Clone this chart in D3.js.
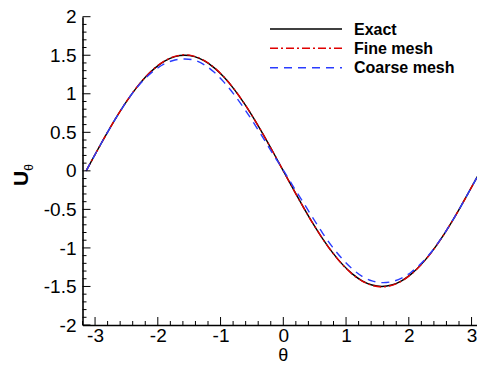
<!DOCTYPE html>
<html>
<head>
<meta charset="utf-8">
<script src="https://cdn.jsdelivr.net/npm/d3@7"></script>
<style>
  html, body { margin: 0; padding: 0; background: #fff; overflow: hidden; }
  svg { display: block; }
  text { font-family: "Liberation Sans", Arial, sans-serif; }
</style>
</head>
<body>
<svg id="chart" width="477" height="365"></svg>
<script>
// ---- data ----
const theta = [-3.1416, -2.9845, -2.8274, -2.6704, -2.5133, -2.3562, -2.1991, -2.0420, -1.8850, -1.7279,
  -1.5708, -1.4137, -1.2566, -1.0996, -0.9425, -0.7854, -0.6283, -0.4712, -0.3142, -0.1571,
  0.0, 0.1571, 0.3142, 0.4712, 0.6283, 0.7854, 0.9425, 1.0996, 1.2566, 1.4137,
  1.5708, 1.7279, 1.8850, 2.0420, 2.1991, 2.3562, 2.5133, 2.6704, 2.8274, 2.9845, 3.1416];
const exact = [0, 0.2347, 0.4635, 0.6810, 0.8817, 1.0607, 1.2135, 1.3365, 1.4266, 1.4815,
  1.5, 1.4815, 1.4266, 1.3365, 1.2135, 1.0607, 0.8817, 0.6810, 0.4635, 0.2347,
  0, -0.2347, -0.4635, -0.6810, -0.8817, -1.0607, -1.2135, -1.3365, -1.4266, -1.4815,
  -1.5, -1.4815, -1.4266, -1.3365, -1.2135, -1.0607, -0.8817, -0.6810, -0.4635, -0.2347, 0];
const fineMesh = [0, 0.2350, 0.4640, 0.6820, 0.8830, 1.0625, 1.2160, 1.3395, 1.4300, 1.4850,
  1.5060, 1.4860, 1.4295, 1.3390, 1.2150, 1.0615, 0.8820, 0.6810, 0.4630, 0.2340,
  -0.0010, -0.2355, -0.4645, -0.6825, -0.8835, -1.0630, -1.2165, -1.3400, -1.4305, -1.4865,
  -1.5065, -1.4865, -1.4300, -1.3390, -1.2155, -1.0620, -0.8825, -0.6815, -0.4640, -0.2350, 0];
const coarseMesh = [0, 0.2350, 0.4630, 0.6800, 0.8800, 1.0570, 1.2000, 1.3120, 1.3920, 1.4380,
  1.4520, 1.4350, 1.3750, 1.2780, 1.1480, 0.9920, 0.8150, 0.6220, 0.4180, 0.2080,
  0.0100, -0.2000, -0.4050, -0.6100, -0.8100, -0.9900, -1.1450, -1.2720, -1.3680, -1.4280,
  -1.4500, -1.4380, -1.3920, -1.3120, -1.2000, -1.0560, -0.8800, -0.6810, -0.4635, -0.2350, 0];
const xTicks = [-3, -2, -1, 0, 1, 2, 3];
const yTicks = [-2, -1.5, -1, -0.5, 0, 0.5, 1, 1.5, 2];
const yTickLabels = ["-2", "-1.5", "-1", "-0.5", "0", "0.5", "1", "1.5", "2"];
const seriesNames = ["Exact", "Fine mesh", "Coarse mesh"];
const seriesColors = ["#000000", "#e00000", "#2a3cff"];
const seriesDash = [null, "8,3,2,3", "8,6"];

// ---- layout ----
const svg = d3.select("#chart");
const plotLeft = 82.5, zeroX = 283.3, plotTop = 16.7, plotBottom = 325;
const x = d3.scaleLinear().domain([-3.2, 3.2]).range([plotLeft, zeroX + (zeroX - plotLeft)]);
const y = d3.scaleLinear().domain([-2, 2]).range([plotBottom, plotTop]);

// curves (exact first, then fine, then coarse on top)
const allSeries = [exact, fineMesh, coarseMesh];
const line = d3.line().x((d, i) => x(theta[i])).y(d => y(d)).curve(d3.curveCatmullRom);
[0, 1, 2].forEach(k => {
  svg.append("path")
    .datum(allSeries[k])
    .attr("d", line)
    .attr("fill", "none")
    .attr("stroke", seriesColors[k])
    .attr("stroke-width", 1.4)
    .attr("stroke-dasharray", seriesDash[k]);
});

// minor ticks
const yMinor = d3.range(-20, 21).map(v => v / 10);
svg.append("g").selectAll("line").data(yMinor).join("line")
  .attr("x1", plotLeft).attr("x2", d => plotLeft + (Math.abs(d * 2 - Math.round(d * 2)) < 1e-6 ? 8 : 4))
  .attr("y1", d => y(d)).attr("y2", d => y(d))
  .attr("stroke", "#000").attr("stroke-width", 1);
const xMinor = d3.range(-16, 17).map(v => v / 5);
svg.append("g").selectAll("line").data(xMinor).join("line")
  .attr("x1", d => x(d)).attr("x2", d => x(d))
  .attr("y1", plotBottom).attr("y2", d => plotBottom - (Math.abs(d - Math.round(d)) < 1e-6 ? 8 : 4))
  .attr("stroke", "#000").attr("stroke-width", 1);

// axes lines
const yAxis = d3.axisLeft(y).tickValues(yTicks).tickSize(0).tickPadding(6)
  .tickFormat((d, i) => yTickLabels[i]);
const gy = svg.append("g").attr("transform", `translate(${plotLeft},0)`).call(yAxis);
gy.select(".domain").attr("stroke", "#000").attr("stroke-width", 1.6);
gy.selectAll("text").attr("font-size", 19).attr("fill", "#000")
  .attr("font-family", "'Liberation Sans', Arial, sans-serif");

const xAxis = d3.axisBottom(x).tickValues(xTicks).tickSize(0).tickPadding(4)
  .tickFormat(d => String(d));
const gx = svg.append("g").attr("transform", `translate(0,${plotBottom})`).call(xAxis);
gx.select(".domain").attr("stroke", "#000").attr("stroke-width", 1.6);
gx.selectAll("text").attr("font-size", 19).attr("fill", "#000")
  .attr("font-family", "'Liberation Sans', Arial, sans-serif");

// axis titles
svg.append("text").attr("x", zeroX).attr("y", 361).attr("text-anchor", "middle")
  .attr("font-size", 18).text("θ");
const yl = svg.append("text").attr("transform", "translate(28,175) rotate(-90)")
  .attr("text-anchor", "middle").attr("font-size", 21).attr("font-weight", "bold");
yl.append("tspan").text("U");
yl.append("tspan").attr("font-size", 12).attr("font-weight", "normal").attr("dy", 5).text("θ");

// legend
const legY = [29, 48.3, 67.7];
seriesNames.forEach((name, k) => {
  svg.append("line").attr("x1", 270).attr("x2", 342)
    .attr("y1", legY[k]).attr("y2", legY[k])
    .attr("stroke", seriesColors[k]).attr("stroke-width", 1.4)
    .attr("stroke-dasharray", seriesDash[k]);
  svg.append("text").attr("x", 354).attr("y", legY[k] + 5.6)
    .attr("font-size", 16).attr("font-weight", "bold").text(name);
});
</script>
</body>
</html>
